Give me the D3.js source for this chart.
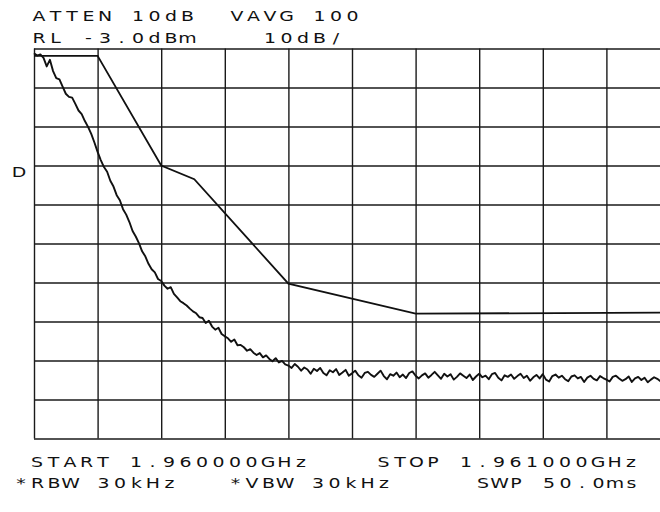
<!DOCTYPE html>
<html>
<head>
<meta charset="utf-8">
<script src="https://cdn.jsdelivr.net/npm/d3@7"></script>
<style>
  body { margin: 0; background: #fff; }
  text { font-family: "DejaVu Sans", sans-serif; fill: #111; }
</style>
</head>
<body>
<svg width="660" height="512"></svg>
<script>
// span is 1.960000 - 1.961000 GHz, offsets in kHz from start
const xTicks = d3.range(0, 1001, 100);
// reference level -3 dBm, 10 dB/div, 10 divisions
const yTicks = d3.range(-103, -2, 10);

// video averaged trace, one value every 5 kHz (dBm)
const traceStep = 5;
const trace = [
  -4.2, -4.8, -4.5, -5.4, -7.6, -5.9, -8.8, -10.6, -10.9, -12.8,
  -14.6, -15.4, -15.6, -17.2, -18.9, -19.8, -21.6, -23.1, -24.9, -27.1,
  -29.5, -31.6, -33.4, -34.6, -36.9, -38.4, -40.6, -41.9, -44.2, -45.6,
  -47.5, -49.8, -51.2, -52.9, -55.0, -56.3, -58.2, -59.6, -60.4, -62.1,
  -62.6, -63.8, -64.6, -64.2, -65.9, -66.8, -67.8, -68.3, -68.9, -69.7,
  -70.4, -70.9, -71.9, -72.1, -73.4, -72.8, -74.3, -75.1, -74.6, -76.2,
  -76.8, -77.3, -78.2, -77.6, -79.1, -79.0, -79.6, -80.5, -80.1, -81.0,
  -81.6, -81.1, -82.2, -81.7, -82.6, -83.2, -82.4, -83.5, -83.1, -84.0,
  -84.3, -84.9, -83.9, -84.6, -85.6, -84.8, -85.3, -86.4, -85.1, -85.7,
  -84.9, -86.2, -86.8, -85.5, -86.0, -85.2, -86.7, -86.1, -85.4, -86.9,
  -86.3, -85.6, -86.8, -87.4, -86.2, -85.9, -86.7, -87.2, -86.4, -85.6,
  -87.0, -87.8, -86.5, -86.9, -86.1, -87.3, -86.6, -87.5, -86.2, -85.8,
  -86.9, -87.6, -86.8, -86.3, -87.4, -86.7, -85.9, -86.8, -87.7, -86.4,
  -87.1, -86.5, -87.9, -87.2, -86.3, -86.9, -87.5, -86.6, -88.0, -87.1,
  -86.4, -87.3, -86.9, -87.8, -86.5, -86.2, -87.4, -88.1, -86.8, -87.2,
  -86.6, -87.7, -87.0, -86.4, -87.5, -86.9, -88.2, -87.3, -86.7, -87.6,
  -86.5, -87.9, -88.4, -87.0, -86.6, -87.4, -86.9, -87.8, -88.3, -87.1,
  -86.8, -87.6, -87.2, -88.5, -87.4, -86.9, -87.7, -88.1, -87.0, -87.5,
  -87.9, -88.4, -87.2, -86.9, -87.6, -88.2, -87.8, -87.1, -88.5, -87.6,
  -87.2, -88.0, -87.4, -88.6, -87.9, -87.3, -87.7, -88.3, -87.5, -87.8,
  -87.4
];

// limit line
const limitFreq = [0, 100, 200, 252, 400, 600, 1000];
const limitDb = [-4.9, -4.9, -33, -36.5, -63.3, -71, -70.7];

const headerText = ["ATTEN 10dB", "VAVG 100", "RL -3.0dBm", "10dB/"];
const footerText = ["START 1.960000GHz", "STOP 1.961000GHz",
                    "*RBW 30kHz", "*VBW 30kHz", "SWP 50.0ms"];

const svg = d3.select("svg");

const x = d3.scaleLinear().domain([0, 1000]).range([34, 670]);
const y = d3.scaleLinear().domain([-103, -3]).range([438.5, 48.5]);

// grid
const gridStyle = g => {
  g.select(".domain").remove();
  g.selectAll("line").attr("stroke", "#1a1a1a").attr("stroke-width", 1.4);
};
svg.append("g")
  .attr("transform", `translate(0,${y(-103)})`)
  .call(d3.axisBottom(x).tickValues(xTicks).tickSize(-(y(-103) - y(-3))).tickFormat(""))
  .call(gridStyle);
svg.append("g")
  .attr("transform", `translate(${x(0)},0)`)
  .call(d3.axisLeft(y).tickValues(yTicks).tickSize(-(x(1000) - x(0))).tickFormat(""))
  .call(gridStyle);

// limit line
svg.append("path")
  .datum(limitFreq.map((f, i) => [f, limitDb[i]]))
  .attr("fill", "none")
  .attr("stroke", "#111")
  .attr("stroke-width", 1.8)
  .attr("d", d3.line().x(d => x(d[0])).y(d => y(d[1])));

// trace
svg.append("path")
  .datum(trace)
  .attr("fill", "none")
  .attr("stroke", "#111")
  .attr("stroke-width", 1.9)
  .attr("stroke-linejoin", "round")
  .attr("d", d3.line().x((d, i) => x(i * traceStep)).y(d => y(d)));

// plotter text: fixed character cells, glyphs widened
const pitch = 16.5, cell = 12, sx = 1.35;
const place = [
  { t: headerText[0], x0: 33, col: 0, y: 21 },
  { t: headerText[1], x0: 33, col: 12, y: 21 },
  { t: headerText[2], x0: 33, col: 0, y: 43 },
  { t: headerText[3], x0: 33, col: 14, y: 43 },
  { t: footerText[0], x0: 31, col: 0, y: 467 },
  { t: footerText[1], x0: 31, col: 21, y: 467 },
  { t: footerText[2], x0: 15, col: 0, y: 488 },
  { t: footerText[3], x0: 15, col: 13, y: 488 },
  { t: footerText[4], x0: 15, col: 28, y: 488 },
  { t: "D", x0: 13, col: 0, y: 177 }
];
svg.append("g").selectAll("text")
  .data(place)
  .join("text")
  .attr("transform", `scale(${sx},1)`)
  .attr("y", d => d.y)
  .attr("font-size", 14)
  .attr("text-anchor", "middle")
  .attr("x", d => Array.from(d.t, (c, i) =>
    ((d.x0 + (d.col + i) * pitch + cell / 2) / sx).toFixed(2)).join(" "))
  .text(d => d.t);
</script>
</body>
</html>
